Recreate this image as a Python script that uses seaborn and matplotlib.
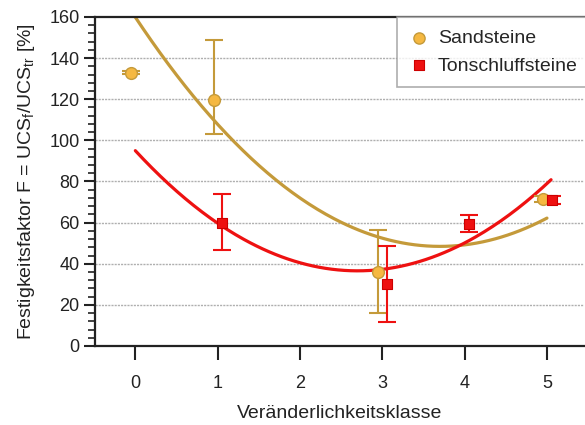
import numpy as np
import pandas as pd
import matplotlib
matplotlib.use("Agg")
import matplotlib.pyplot as plt
import seaborn as sns
from matplotlib.ticker import MultipleLocator

# ---- data ----
sand_x = [-0.05, 0.95, 2.95, 4.95]
sand_y = [133, 119.5, 36, 71.5]
sand_err_lo = [0.6, 16.5, 20, 1.5]
sand_err_hi = [0.6, 29.5, 20.5, 1.5]

ton_x = [1.05, 3.06, 4.05, 5.06]
ton_y = [60, 30, 59.5, 71]
ton_err_lo = [13.5, 18.3, 4, 1.8]
ton_err_hi = [13.8, 18.6, 4.2, 1.8]

# quadratic fit coefficients (a, b, c) of the trend curves
sand_fit = [8.14, -60.24, 159.9]
sand_fit_range = [0.0, 5.0]
ton_fit = [8.02, -43.3, 95.0]
ton_fit_range = [0.0, 5.05]

x_ticks = [0, 1, 2, 3, 4, 5]
y_ticks = [0, 20, 40, 60, 80, 100, 120, 140, 160]

labels = ["Sandsteine", "Tonschluffsteine"]

# ---- style ----
sns.set_theme(style="white")
plt.rcParams['font.family'] = ['Liberation Sans', 'DejaVu Sans']
plt.rcParams['mathtext.fontset'] = 'custom'
plt.rcParams['mathtext.rm'] = 'Liberation Sans'
plt.rcParams['mathtext.it'] = 'Liberation Sans'

gold = "#C49A3A"
orange = "#F5B841"
red = "#EE1111"
txt = "#222222"

fig = plt.figure(figsize=(5.85, 4.25), dpi=100)
ax = fig.add_axes([95/585, 1 - 346/425, (584 - 95)/585, (346 - 17)/425])

# grid
for yv in y_ticks[1:-1]:
    ax.axhline(yv, color="#AFAFAF", lw=1.0, ls=(0, (1.5, 0.8)), zorder=0)

# fit curves
xs_s = np.linspace(*sand_fit_range, 200)
xs_t = np.linspace(*ton_fit_range, 200)
curves = pd.DataFrame({
    "x": np.concatenate([xs_s, xs_t]),
    "y": np.concatenate([np.polyval(sand_fit, xs_s), np.polyval(ton_fit, xs_t)]),
    "g": [labels[0]] * len(xs_s) + [labels[1]] * len(xs_t),
})
sns.lineplot(data=curves, x="x", y="y", hue="g", palette=[gold, red],
             linewidth=2.3, legend=False, ax=ax, zorder=2, sort=False)

# error bars
ax.errorbar(sand_x, sand_y, yerr=[sand_err_lo, sand_err_hi], fmt="none",
            ecolor=gold, elinewidth=1.5, capsize=6.5, capthick=1.5, zorder=3)
ax.errorbar(ton_x, ton_y, yerr=[ton_err_lo, ton_err_hi], fmt="none",
            ecolor=red, elinewidth=1.5, capsize=6.5, capthick=1.5, zorder=3)

# points
pts = pd.DataFrame({
    "x": sand_x + ton_x,
    "y": sand_y + ton_y,
    "g": [labels[0]] * len(sand_x) + [labels[1]] * len(ton_x),
})
sns.scatterplot(data=pts[pts.g == labels[0]], x="x", y="y", marker="o", s=72,
                color=orange, edgecolor=gold, linewidth=1.0, ax=ax, zorder=4,
                label=labels[0])
sns.scatterplot(data=pts[pts.g == labels[1]], x="x", y="y", marker="s", s=62,
                color=red, edgecolor="#CC0000", linewidth=0.8, ax=ax, zorder=4,
                label=labels[1])

ax.set_xlim(-0.49, 5.45)
ax.set_ylim(0, 160)
ax.set_xticks(x_ticks)
ax.set_yticks(y_ticks)
ax.yaxis.set_minor_locator(MultipleLocator(4))
ax.tick_params(axis="x", which="major", direction="out", length=10, width=1.5,
               pad=11, labelsize=13, colors=txt, bottom=True)
ax.tick_params(axis="y", which="major", direction="out", length=8, width=1.5,
               pad=3, labelsize=13, colors=txt, left=True)
ax.tick_params(axis="y", which="minor", direction="out", length=5, width=1.2,
               left=True, colors=txt)

for side in ["left", "bottom", "top"]:
    ax.spines[side].set_color(txt)
    ax.spines[side].set_linewidth(1.6)
ax.spines["right"].set_visible(False)

ax.set_xlabel("Veränderlichkeitsklasse", fontsize=14, color=txt, labelpad=9)
ax.set_ylabel(r"Festigkeitsfaktor F = UCS$_\mathregular{f}$/UCS$_\mathregular{tr}$ [%]",
              fontsize=14, color=txt, labelpad=9)

leg = ax.legend(loc="upper left", bbox_to_anchor=(397/585, 1 - 17/425),
                bbox_transform=fig.transFigure, frameon=True, fancybox=False,
                fontsize=14, handletextpad=0.45, labelspacing=0.5,
                borderpad=0.65, handlelength=1.0, markerscale=0.95,
                borderaxespad=0)
leg.get_frame().set_edgecolor("#9A9A9A")
leg.get_frame().set_linewidth(1.2)

fig.savefig("out.png", dpi=100)
